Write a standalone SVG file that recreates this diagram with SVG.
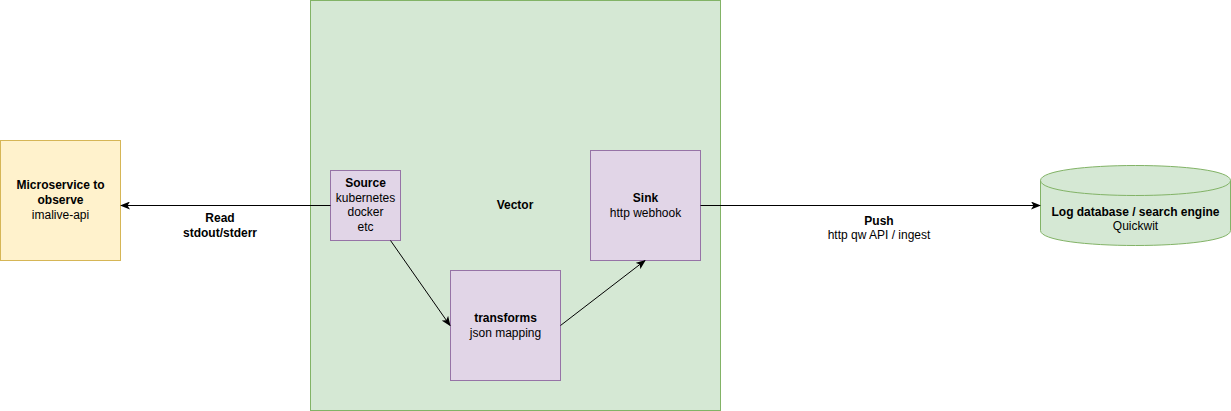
<svg xmlns="http://www.w3.org/2000/svg" width="1231" height="411" viewBox="0 0 1231 411">
<style>
text{font-family:"Liberation Sans",Arial,sans-serif;font-size:12px;fill:#000;text-anchor:middle;dominant-baseline:central}
.b{font-weight:bold}
.purple{fill:#e1d5e7;stroke:#9673a6;stroke-width:1}
.edge{fill:none;stroke:#000;stroke-width:1}
</style>
<defs>
<marker id="arr" viewBox="0 0 10 8" refX="9" refY="4" markerWidth="10" markerHeight="8" markerUnits="userSpaceOnUse" orient="auto">
<path d="M0,0 L10,4 L0,8 L2.5,4 z" fill="#000"/>
</marker>
</defs>
<rect x="0" y="0" width="1231" height="411" fill="#fff"/>
<g id="vector">
<rect x="310.5" y="0.5" width="410" height="410" fill="#d5e8d4" stroke="#82b366"/>
<text x="515" y="205" class="b">Vector</text>
</g>
<g id="microservice">
<rect x="0.5" y="140.5" width="120" height="120" fill="#fff2cc" stroke="#d6b656"/>
<text x="60.5" y="185" class="b">Microservice to</text>
<text x="60.5" y="200" class="b">observe</text>
<text x="60.5" y="215">imalive-api</text>
</g>
<g id="source">
<rect class="purple" x="330.5" y="170.5" width="70" height="70"/>
<text x="365.5" y="183" class="b">Source</text>
<text x="365.5" y="197.5">kubernetes</text>
<text x="365.5" y="212">docker</text>
<text x="365.5" y="226.5">etc</text>
</g>
<g id="transforms">
<rect class="purple" x="450.5" y="270.5" width="110" height="110"/>
<text x="505.5" y="318" class="b">transforms</text>
<text x="505.5" y="333">json mapping</text>
</g>
<g id="sink">
<rect class="purple" x="590.5" y="150.5" width="110" height="110"/>
<text x="645.5" y="197.5" class="b">Sink</text>
<text x="645.5" y="212.5">http webhook</text>
</g>
<g id="database">
<path d="M1040.5,180.5 C1040.5,160.5 1230.5,160.5 1230.5,180.5 L1230.5,230.5 C1230.5,250.5 1040.5,250.5 1040.5,230.5 Z" fill="#d5e8d4" stroke="#82b366"/>
<path d="M1040.5,180.5 C1040.5,200.5 1230.5,200.5 1230.5,180.5" fill="none" stroke="#82b366"/>
<text x="1135.5" y="212" class="b">Log database / search engine</text>
<text x="1135.5" y="226">Quickwit</text>
</g>
<g id="connectors">
<path class="edge" d="M330.5,205.5 L121,205.5" marker-end="url(#arr)"/>
<text x="220" y="218" class="b">Read</text>
<text x="220" y="232.5" class="b">stdout/stderr</text>
<path class="edge" d="M390.5,240.5 L450,325.5" marker-end="url(#arr)"/>
<path class="edge" d="M560.5,325.5 L645,260.5" marker-end="url(#arr)"/>
<path class="edge" d="M700.5,205.5 L1040,205.5" marker-end="url(#arr)"/>
<text x="879" y="220.5" class="b">Push</text>
<text x="879" y="235">http qw API / ingest</text>
</g>
</svg>
